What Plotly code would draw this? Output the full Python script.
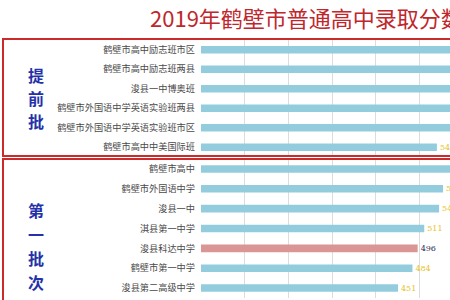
import plotly.graph_objects as go
from plotly.subplots import make_subplots

# ---- data ----
title_text = "2019年鹤壁市普通高中录取分数线"

group1_name = "提前批"
group1_schools = ["鹤壁市高中励志班市区", "鹤壁市高中励志班两县", "浚县一中博奥班",
                  "鹤壁市外国语中学英语实验班两县", "鹤壁市外国语中学英语实验班市区",
                  "鹤壁市高中中美国际班"]
group1_scores = [610, 600, 590, 585, 595, 540]

group2_name = "第一批次"
group2_schools = ["鹤壁市高中", "鹤壁市外国语中学", "浚县一中", "淇县第一中学",
                  "浚县科达中学", "鹤壁市第一中学", "浚县第二高级中学"]
group2_scores = [590, 554, 545, 511, 496, 484, 451]
highlight_school = "浚县科达中学"

x_max = 570

BLUE = "#93cddd"
RED_BAR = "#d99694"
GOLD = "#e8c22a"
DARK = "#2a2a55"

fig = make_subplots(rows=2, cols=1, shared_xaxes=True, vertical_spacing=0.0)

def add_group(schools, scores, row):
    colors = [RED_BAR if s == highlight_school else BLUE for s in schools]
    tcolors = [DARK if s == highlight_school else GOLD for s in schools]
    fig.add_trace(go.Bar(
        x=scores, y=schools, orientation="h",
        marker=dict(color=colors, line=dict(width=0)),
        text=[str(v) for v in scores], textposition="outside",
        textfont=dict(color=tcolors, size=8, family="DejaVu Serif"),
        cliponaxis=True, constraintext="none",
        showlegend=False, hoverinfo="skip", width=0.38,
    ), row=row, col=1)

add_group(group1_schools, group1_scores, 1)
add_group(group2_schools, group2_scores, 2)

W, H = 450, 300
xdom = [201 / W, 1.0]
fig.update_xaxes(range=[0, x_max], dtick=100, showgrid=True, gridcolor="#dcdcdc",
                 gridwidth=1, zeroline=False, showticklabels=False, showline=False,
                 domain=xdom)
yfont = dict(family="Noto Sans CJK SC", size=9.2, color="#4a4a4a")
fig.update_yaxes(autorange="reversed", showgrid=False, zeroline=False, showline=False,
                 ticks="", tickfont=yfont, ticklabelstandoff=5)
fig.update_layout(
    yaxis=dict(domain=[1 - 157 / H, 1 - 40 / H]),
    yaxis2=dict(domain=[1 - 298 / H, 1 - 159 / H]),
)

# section boxes
box_col = "#cc2b2b"
fig.add_shape(type="rect", xref="paper", yref="paper",
              x0=3 / W, x1=1.05, y0=1 - 156 / H, y1=1 - 39 / H,
              line=dict(color=box_col, width=2), layer="above")
fig.add_shape(type="rect", xref="paper", yref="paper",
              x0=3 / W, x1=1.05, y0=-0.05, y1=1 - 159 / H,
              line=dict(color=box_col, width=2), layer="above")

# vertical group labels
gfont = dict(family="Noto Sans CJK SC", size=16, color="#2531a8")
for i, ch in enumerate(group1_name):
    fig.add_annotation(text="<b>" + ch + "</b>", xref="paper", yref="paper",
                       x=36 / W, y=1 - (75 + i * 23) / H, showarrow=False,
                       font=gfont, xanchor="center", yanchor="middle")
for i, ch in enumerate(group2_name):
    fig.add_annotation(text="<b>" + ch + "</b>", xref="paper", yref="paper",
                       x=36 / W, y=1 - (210 + i * 24) / H, showarrow=False,
                       font=gfont, xanchor="center", yanchor="middle")

# title
fig.add_annotation(text=title_text, xref="paper", yref="paper",
                   x=148 / W, y=1 - 17 / H, xanchor="left", yanchor="middle",
                   showarrow=False,
                   font=dict(family="Noto Sans CJK SC", size=22, color="#c0272d"))

fig.update_layout(width=W, height=H, margin=dict(l=0, r=0, t=0, b=0),
                  paper_bgcolor="white", plot_bgcolor="white", bargap=0.6)

fig.write_html("out.html")
